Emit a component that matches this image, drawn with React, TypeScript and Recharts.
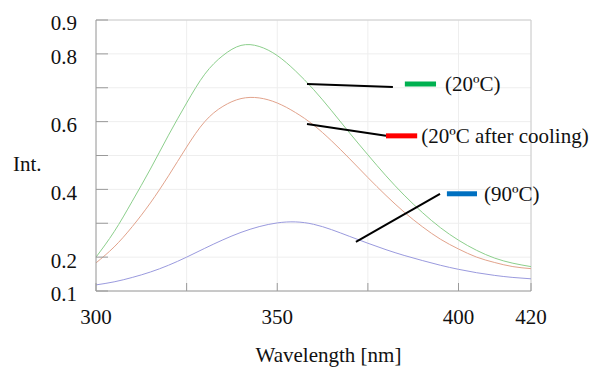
import React from 'react';
import {
  LineChart,
  Line,
  XAxis,
  YAxis,
  CartesianGrid,
  ReferenceLine,
  Label,
} from 'recharts';

// Wavelength samples (nm) and intensities
const wavelengths = [
  300, 305, 310, 315, 320, 325, 330, 335, 340, 345, 350, 355, 360,
  365, 370, 375, 380, 385, 390, 395, 400, 405, 410, 415, 420,
];
const int20 = [
  0.2, 0.275, 0.365, 0.46, 0.56, 0.655, 0.74, 0.795, 0.825, 0.822, 0.795, 0.75, 0.695,
  0.632, 0.566, 0.502, 0.44, 0.383, 0.332, 0.287, 0.25, 0.22, 0.197, 0.182, 0.172,
];
const int20cool = [
  0.183, 0.23, 0.29, 0.36, 0.44, 0.525, 0.6, 0.645, 0.668, 0.67, 0.655, 0.627, 0.59,
  0.543, 0.49, 0.435, 0.382, 0.333, 0.29, 0.253, 0.224, 0.2, 0.184, 0.172, 0.166,
];
const int90 = [
  0.118, 0.127, 0.14, 0.156, 0.176, 0.2, 0.226, 0.251, 0.273, 0.29, 0.301, 0.304, 0.297,
  0.281, 0.261, 0.241, 0.222, 0.205, 0.19, 0.176, 0.164, 0.154, 0.146, 0.14, 0.136,
];

const xTicks = [300, 325, 350, 375, 400, 420];
const xLabels = [300, 350, 400, 420];
const yTicks = [0.1, 0.2, 0.3, 0.4, 0.5, 0.6, 0.7, 0.8, 0.9];
const yLabels = [0.1, 0.2, 0.4, 0.6, 0.8, 0.9];

// callouts: leader line (from curve to legend bar), coloured bar, caption
const callouts = [
  { name: '(20ºC)', color: '#00B050', lead: [358.2, 0.711, 381.9, 0.702], bar: [385.2, 393.8, 0.711], gap: 9 },
  { name: '(20ºC after cooling)', color: '#FF0000', lead: [358.2, 0.593, 380, 0.558], bar: [380, 388.6, 0.558], gap: 4 },
  { name: '(90ºC)', color: '#0070C0', lead: [371.7, 0.245, 394.9, 0.387], bar: [396.8, 405.1, 0.387], gap: 7 },
];

const data = wavelengths.map((w, i) => ({
  w,
  a: int20[i],
  b: int20cool[i],
  c: int90[i],
}));

const font = "'Liberation Serif', 'DejaVu Serif', serif";
const txt = { fill: '#111', fontSize: 21, fontFamily: font, style: { fontFamily: font } };

export default function App() {
  return (
    <div style={{ position: 'absolute', left: 0, top: 0, fontFamily: font }}>
      <LineChart width={591} height={367} data={data} margin={{ top: 20, right: 60, bottom: 0, left: 0 }} style={{ fontFamily: font }}>
        <CartesianGrid stroke="#eeeeee" horizontalValues={yTicks} verticalValues={xTicks} />
        <XAxis
          dataKey="w"
          type="number"
          domain={[300, 420]}
          ticks={xTicks}
          interval={0}
          height={76}
          stroke="#9a9a9a"
          tickSize={-8}
          tickMargin={26}
          tick={txt}
          tickFormatter={(v: number) => (xLabels.includes(v) ? String(v) : '')}
        >
          <Label value="Wavelength [nm]" position="insideBottom" offset={5} dx={15} {...txt} />
        </XAxis>
        <YAxis
          type="number"
          domain={[0.1, 0.9]}
          ticks={yTicks}
          interval={0}
          width={96}
          stroke="#9a9a9a"
          tickSize={-12}
          tickMargin={31}
          tick={{ ...txt, dy: 3 }}
          tickFormatter={(v: number) => (yLabels.some((l) => Math.abs(l - v) < 1e-6) ? v.toFixed(1) : '')}
        >
          <Label value="Int." position="insideLeft" offset={13} dy={8} {...txt} />
        </YAxis>
        <ReferenceLine y={0.9} stroke="#cccccc" />
        <ReferenceLine x={420} stroke="#cccccc" />
        <Line type="natural" dataKey="a" stroke="#8ccf8c" strokeWidth={1} dot={false} isAnimationActive={false} />
        <Line type="natural" dataKey="b" stroke="#e2a38c" strokeWidth={1} dot={false} isAnimationActive={false} />
        <Line type="natural" dataKey="c" stroke="#9a9ade" strokeWidth={1} dot={false} isAnimationActive={false} />
        {callouts.map((c) => (
          <ReferenceLine
            key={c.name + '-lead'}
            segment={[
              { x: c.lead[0], y: c.lead[1] },
              { x: c.lead[2], y: c.lead[3] },
            ]}
            stroke="#000"
            strokeWidth={2}
            ifOverflow="visible"
          />
        ))}
        {callouts.map((c) => (
          <ReferenceLine
            key={c.name + '-bar'}
            segment={[
              { x: c.bar[0], y: c.bar[2] },
              { x: c.bar[1], y: c.bar[2] },
            ]}
            stroke={c.color}
            strokeWidth={5}
            ifOverflow="visible"
          >
            <Label value={c.name} position="right" offset={c.gap} {...txt} />
          </ReferenceLine>
        ))}
      </LineChart>
    </div>
  );
}
